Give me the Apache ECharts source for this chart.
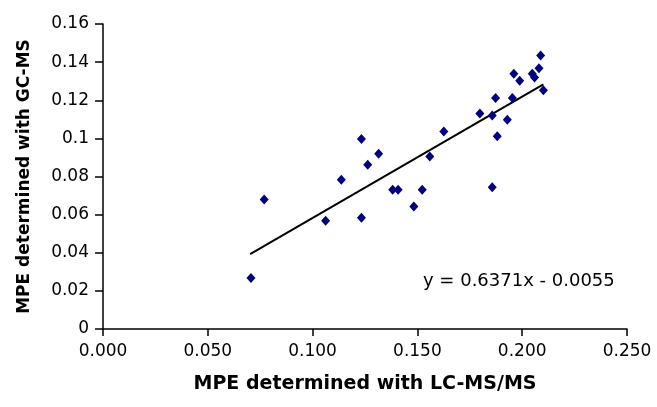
<!DOCTYPE html>
<html>
<head>
<meta charset="utf-8">
<script src="https://cdn.jsdelivr.net/npm/echarts@6/dist/echarts.min.js"></script>
<style>
html,body{margin:0;padding:0;background:#fff;}
#chart{width:657px;height:407px;}
</style>
</head>
<body>
<div id="chart"></div>
<script>
// Data
const lcmsX = [0.0706, 0.0769, 0.1062, 0.1137, 0.1233, 0.1233, 0.1263, 0.1315, 0.1382, 0.1408,
               0.1483, 0.1523, 0.1559, 0.1626, 0.1798, 0.1857, 0.1873, 0.1881, 0.1857, 0.1929,
               0.1953, 0.1960, 0.1988, 0.2048, 0.2059, 0.2080, 0.2088, 0.2101];
const gcmsY = [0.0267, 0.0680, 0.0568, 0.0783, 0.0997, 0.0584, 0.0861, 0.0920, 0.0731, 0.0731,
               0.0643, 0.0731, 0.0905, 0.1036, 0.1130, 0.1120, 0.1212, 0.1011, 0.0744, 0.1098,
               0.1212, 0.1339, 0.1302, 0.1339, 0.1320, 0.1368, 0.1435, 0.1252];
const trendSlope = 0.6371;
const trendIntercept = -0.0055;
const trendX = [0.0702, 0.2101];
const xTickLabels = ['0.000', '0.050', '0.100', '0.150', '0.200', '0.250'];
const yTickLabels = ['0', '0.02', '0.04', '0.06', '0.08', '0.1', '0.12', '0.14', '0.16'];
const xTitle = 'MPE determined with LC-MS/MS';
const yTitle = 'MPE determined with GC-MS';
const equationText = 'y = 0.6371x - 0.0055';

const points = lcmsX.map((x, i) => [x, gcmsY[i]]);
const trendPts = trendX.map(x => [x, trendSlope * x + trendIntercept]);

const chart = echarts.init(document.getElementById('chart'), null, {renderer: 'canvas'});
const FONT = 'DejaVu Sans';
chart.setOption({
  animation: false,
  backgroundColor: '#ffffff',
  grid: {left: 103, right: 30, top: 24, bottom: 78, containLabel: false},
  xAxis: {
    type: 'value', min: 0, max: 0.25, interval: 0.05,
    name: xTitle, nameLocation: 'middle', nameGap: 46,
    nameTextStyle: {fontFamily: FONT, fontWeight: 'bold', fontSize: 19, color: '#000'},
    axisLine: {show: true, onZero: false, lineStyle: {color: '#000', width: 1.5}},
    axisTick: {show: true, inside: false, length: 7, lineStyle: {color: '#000', width: 1.5}},
    axisLabel: {
      fontFamily: FONT, fontSize: 17, color: '#000', margin: 14,
      formatter: (v) => xTickLabels[Math.round(v / 0.05)]
    },
    splitLine: {show: false}
  },
  yAxis: {
    type: 'value', min: 0, max: 0.16, interval: 0.02,
    name: yTitle, nameLocation: 'middle', nameGap: 70, nameRotate: 90,
    nameTextStyle: {fontFamily: FONT, fontWeight: 'bold', fontSize: 17, color: '#000'},
    axisLine: {show: true, onZero: false, lineStyle: {color: '#000', width: 1.5}},
    axisTick: {show: true, inside: false, length: 8, lineStyle: {color: '#000', width: 1.5}},
    axisLabel: {
      fontFamily: FONT, fontSize: 17, color: '#000', margin: 14,
      formatter: (v) => yTickLabels[Math.round(v / 0.02)]
    },
    splitLine: {show: false}
  },
  series: [
    {
      type: 'scatter', data: points, symbol: 'diamond', symbolSize: [9, 10],
      itemStyle: {color: '#000080', opacity: 1}, z: 3
    },
    {
      type: 'line', data: trendPts, symbol: 'none', silent: true,
      lineStyle: {color: '#000', width: 2}, z: 2
    }
  ],
  graphic: [{
    type: 'text', left: 423, top: 272,
    style: {text: equationText, fontFamily: FONT, fontSize: 18, fill: '#000'}
  }]
});
</script>
</body>
</html>
